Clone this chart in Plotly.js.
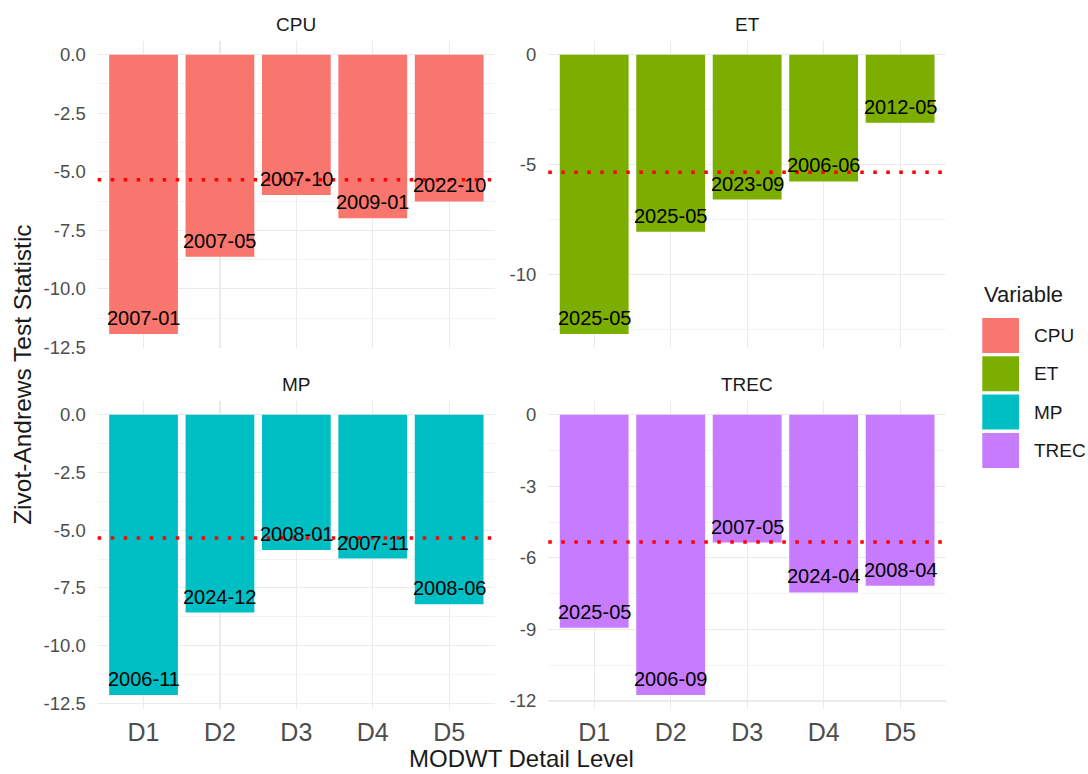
<!DOCTYPE html>
<html>
<head>
<meta charset="utf-8">
<script src="https://cdn.plot.ly/plotly-3.0.1.min.js"></script>
<style>
  html, body { margin: 0; padding: 0; background: #ffffff; }
  #chart { width: 1088px; height: 774px; }
</style>
</head>
<body>
<div id="chart"></div>
<script>
// MODWT detail levels on the x axis
const levels = ['D1', 'D2', 'D3', 'D4', 'D5'];

// Variables (one facet each) and their fill colours
const variables = ['CPU', 'ET', 'MP', 'TREC'];
const fills = ['#F8766D', '#7CAE00', '#00BFC4', '#C77CFF'];

// Zivot-Andrews test statistics per detail level
const cpuStat  = [-11.93, -8.63, -5.99, -6.99, -6.27];
const etStat   = [-12.69, -8.04, -6.58, -5.76, -3.09];
const mpStat   = [-12.14, -8.57, -5.86, -6.23, -8.21];
const trecStat = [-8.93, -11.75, -5.36, -7.45, -7.17];

// Estimated break dates per detail level
const cpuBreak  = ['2007-01', '2007-05', '2007-10', '2009-01', '2022-10'];
const etBreak   = ['2025-05', '2025-05', '2023-09', '2006-06', '2012-05'];
const mpBreak   = ['2006-11', '2024-12', '2008-01', '2007-11', '2008-06'];
const trecBreak = ['2025-05', '2006-09', '2007-05', '2024-04', '2008-04'];

// Critical value drawn as the dotted reference line
const criticalValue = -5.34;

// Tick step and decimals for each facet's free y scale
const tickStep = [2.5, 5, 2.5, 3];
const tickDecimals = [1, 0, 1, 0];

const stats = [cpuStat, etStat, mpStat, trecStat];
const breaks = [cpuBreak, etBreak, mpBreak, trecBreak];

// Panel geometry (paper fractions)
const W = 1088, H = 774;
const colDomains = [[97.7 / W, 495 / W], [548.3 / W, 946 / W]];
const rowDomains = [[1 - 348 / H, 1 - 40.7 / H], [1 - 709 / H, 1 - 400.7 / H]];
const stripY = [1 - 24.5 / H, 1 - 384 / H];

const FONT = 'Liberation Sans, Arial, sans-serif';
const GRID = '#EBEBEB';
const GRID_MINOR = '#F3F3F3';
const TICK_COLOR = '#4D4D4D';

const traces = [];
const shapes = [];
const annotations = [];
const layout = {
  width: W,
  height: H,
  margin: { l: 0, r: 0, t: 0, b: 0 },
  paper_bgcolor: '#ffffff',
  plot_bgcolor: '#ffffff',
  showlegend: false,
  font: { family: FONT, color: '#1A1A1A' },
  shapes: shapes,
  annotations: annotations
};

variables.forEach((name, i) => {
  const n = i + 1;
  const xa = n === 1 ? 'x' : 'x' + n;
  const ya = n === 1 ? 'y' : 'y' + n;
  const col = i % 2;
  const row = Math.floor(i / 2);
  const vals = stats[i];

  // ggplot-style 5% expansion of the free y range
  const lo = Math.min(0, criticalValue, ...vals);
  const hi = Math.max(0, ...vals);
  const span = hi - lo;
  const yRange = [lo - 0.05 * span, hi + 0.05 * span];

  const step = tickStep[i];
  const major = [];
  const minor = [];
  for (let v = 0; v >= yRange[0] - 1e-9; v -= step) major.push(+v.toFixed(4));
  for (let v = -step / 2; v >= yRange[0] - 1e-9; v -= step) minor.push(+v.toFixed(4));

  traces.push({
    type: 'bar',
    x: levels,
    y: vals,
    xaxis: xa,
    yaxis: ya,
    width: 0.9,
    marker: { color: fills[i], line: { width: 0 } },
    hoverinfo: 'x+y',
    showlegend: false
  });

  // Break-date label just inside the end of each bar
  levels.forEach((lv, j) => {
    annotations.push({
      xref: xa,
      yref: ya,
      x: lv,
      y: vals[j],
      text: breaks[i][j],
      showarrow: false,
      xanchor: 'center',
      yanchor: 'middle',
      yshift: 16,
      font: { family: FONT, size: 20, color: '#000000' }
    });
  });

  layout['xaxis' + (n === 1 ? '' : n)] = {
    domain: colDomains[col],
    anchor: ya,
    type: 'category',
    categoryorder: 'array',
    categoryarray: levels,
    range: [-0.6, levels.length - 0.4],
    showgrid: true,
    gridcolor: GRID,
    gridwidth: 1.2,
    zeroline: false,
    showline: false,
    ticks: '',
    showticklabels: row === 1,
    ticklabelstandoff: 6,
    tickfont: { family: FONT, size: 25, color: TICK_COLOR },
    fixedrange: true
  };

  layout['yaxis' + (n === 1 ? '' : n)] = {
    domain: rowDomains[row],
    anchor: xa,
    range: yRange,
    tickmode: 'array',
    tickvals: major,
    ticktext: major.map(v => v.toFixed(tickDecimals[i])),
    showgrid: true,
    gridcolor: GRID,
    gridwidth: 1.2,
    minor: { tickmode: 'array', tickvals: minor, showgrid: true, gridcolor: GRID_MINOR, gridwidth: 1, ticks: '' },
    zeroline: false,
    showline: false,
    ticks: '',
    ticklabelstandoff: 11,
    tickfont: { family: FONT, size: 18.5, color: TICK_COLOR },
    fixedrange: true
  };

  // Dotted critical-value line across the panel
  shapes.push({
    type: 'line',
    xref: xa + ' domain',
    yref: ya,
    x0: 0,
    x1: 1,
    y0: criticalValue,
    y1: criticalValue,
    line: { color: '#FF0000', width: 3.5, dash: '3.5px,9.5px' },
    layer: 'above'
  });

  // Facet strip label
  annotations.push({
    xref: 'paper',
    yref: 'paper',
    x: (colDomains[col][0] + colDomains[col][1]) / 2,
    y: stripY[row],
    text: name,
    showarrow: false,
    xanchor: 'center',
    yanchor: 'middle',
    font: { family: FONT, size: 19, color: '#1A1A1A' }
  });
});

// Axis titles
annotations.push({
  xref: 'paper', yref: 'paper',
  x: (colDomains[0][0] + colDomains[1][1]) / 2,
  y: 0,
  text: 'MODWT Detail Level',
  showarrow: false,
  xanchor: 'center', yanchor: 'bottom',
  font: { family: FONT, size: 24, color: '#1A1A1A' }
});
annotations.push({
  xref: 'paper', yref: 'paper',
  x: 23 / W,
  y: (rowDomains[1][0] + rowDomains[0][1]) / 2,
  text: 'Zivot-Andrews Test Statistic',
  textangle: -90,
  showarrow: false,
  xanchor: 'center', yanchor: 'middle',
  font: { family: FONT, size: 24.5, color: '#1A1A1A' }
});

// Legend: title, colour keys and labels
const legendLeft = 982.3, keyW = 36.7, keyH = 35, keyPitch = 38.3, firstKeyTop = 318;
annotations.push({
  xref: 'paper', yref: 'paper',
  x: legendLeft / W, y: 1 - 295 / H,
  text: 'Variable',
  showarrow: false,
  xanchor: 'left', yanchor: 'middle',
  font: { family: FONT, size: 22, color: '#1A1A1A' }
});
variables.forEach((name, i) => {
  const top = firstKeyTop + i * keyPitch;
  shapes.push({
    type: 'rect',
    xref: 'paper', yref: 'paper',
    x0: legendLeft / W, x1: (legendLeft + keyW) / W,
    y0: 1 - (top + keyH) / H, y1: 1 - top / H,
    fillcolor: fills[i],
    line: { width: 0 },
    layer: 'above'
  });
  annotations.push({
    xref: 'paper', yref: 'paper',
    x: (legendLeft + keyW + 13) / W, y: 1 - (top + keyH / 2) / H,
    text: name,
    showarrow: false,
    xanchor: 'left', yanchor: 'middle',
    font: { family: FONT, size: 19, color: '#1A1A1A' }
  });
});

Plotly.newPlot('chart', traces, layout, { displayModeBar: false, staticPlot: true });
</script>
</body>
</html>
